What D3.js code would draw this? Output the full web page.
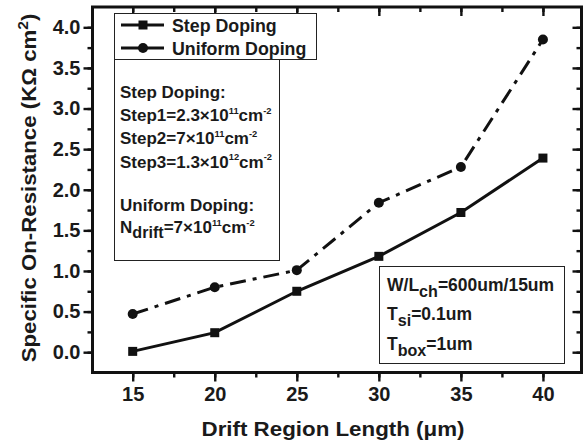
<!DOCTYPE html>
<html><head><meta charset="utf-8">
<script src="https://cdn.jsdelivr.net/npm/d3@7"></script>
<style>
body{margin:0;background:#fff;}
text{font-family:"Liberation Sans",Arial,sans-serif;font-weight:bold;fill:#1a1a1a;}
</style></head>
<body><svg id="c" width="584" height="447"></svg>
<script>
const drift = [15, 20, 25, 30, 35, 40];
const stepDoping = [0.01, 0.24, 0.75, 1.18, 1.72, 2.39];
const uniformDoping = [0.47, 0.80, 1.01, 1.84, 2.28, 3.85];
const xTicks = [15, 20, 25, 30, 35, 40];
const yTicks = [0.0, 0.5, 1.0, 1.5, 2.0, 2.5, 3.0, 3.5, 4.0];

const svg = d3.select("#c");
const L = 92.5, R = 581.5, T = 7, B = 372.5;
const x = d3.scaleLinear().domain([12.55, 42.35]).range([L, R]);
const y = d3.scaleLinear().domain([-0.25, 4.25]).range([B, T]);

const xMinor = d3.range(12.5, 42.5, 2.5).filter(v => v > 12.55 && v < 42.35);
const yMinor = d3.range(-0.25, 4.26, 0.25).filter(v => v > -0.25 && v < 4.25);

function axisLines(g, axis){ g.call(axis); g.select(".domain").remove(); g.selectAll("line").attr("stroke","#111").attr("stroke-width",2.4); }
const TF = 20;
// bottom (outward)
svg.append("g").attr("transform",`translate(0,${B})`).call(g=>axisLines(g,d3.axisBottom(x).tickValues(xMinor).tickSize(5).tickFormat("")));
svg.append("g").attr("transform",`translate(0,${B})`).call(g=>axisLines(g,d3.axisBottom(x).tickValues(xTicks).tickSize(9).tickPadding(5).tickFormat(d3.format("d"))))
  .selectAll("text").attr("font-size",TF).attr("font-family","Liberation Sans, Arial").attr("font-weight","bold");
// top (inward)
svg.append("g").attr("transform",`translate(0,${T})`).call(g=>axisLines(g,d3.axisBottom(x).tickValues(xMinor).tickSize(5).tickFormat("")));
svg.append("g").attr("transform",`translate(0,${T})`).call(g=>axisLines(g,d3.axisBottom(x).tickValues(xTicks).tickSize(9).tickFormat("")));
// left (outward)
svg.append("g").attr("transform",`translate(${L},0)`).call(g=>axisLines(g,d3.axisLeft(y).tickValues(yMinor).tickSize(5).tickFormat("")));
svg.append("g").attr("transform",`translate(${L},0)`).call(g=>axisLines(g,d3.axisLeft(y).tickValues(yTicks).tickSize(9).tickPadding(3).tickFormat(d3.format(".1f"))))
  .selectAll("text").attr("font-size",TF).attr("font-family","Liberation Sans, Arial").attr("font-weight","bold");
// right (inward)
svg.append("g").attr("transform",`translate(${R},0)`).call(g=>axisLines(g,d3.axisLeft(y).tickValues(yMinor).tickSize(5).tickFormat("")));
svg.append("g").attr("transform",`translate(${R},0)`).call(g=>axisLines(g,d3.axisLeft(y).tickValues(yTicks).tickSize(9).tickFormat("")));
svg.selectAll(".tick text").attr("fill","#1a1a1a");

// frame
svg.append("rect").attr("x",L).attr("y",T).attr("width",R-L).attr("height",B-T)
  .attr("fill","none").attr("stroke","#111").attr("stroke-width",3);

// series
const ptsS = drift.map((d,i)=>[d, stepDoping[i]]);
const ptsU = drift.map((d,i)=>[d, uniformDoping[i]]);
const line = d3.line().x(d=>x(d[0])).y(d=>y(d[1]));
svg.append("path").attr("d",line(ptsU)).attr("fill","none").attr("stroke","#111").attr("stroke-width",3)
  .attr("stroke-dasharray","16,7,4,7");
svg.append("path").attr("d",line(ptsS)).attr("fill","none").attr("stroke","#111").attr("stroke-width",3);
svg.selectAll(".sq").data(ptsS).enter().append("rect")
  .attr("x",d=>x(d[0])-4.5).attr("y",d=>y(d[1])-4.5).attr("width",9).attr("height",9).attr("fill","#111");
svg.selectAll(".ci").data(ptsU).enter().append("circle")
  .attr("cx",d=>x(d[0])).attr("cy",d=>y(d[1])).attr("r",5).attr("fill","#111");

// legend box
svg.append("rect").attr("x",114.5).attr("y",13.5).attr("width",202).attr("height",46)
  .attr("fill","#fff").attr("stroke","#222").attr("stroke-width",1);
svg.append("rect").attr("x",114.5).attr("y",59.5).attr("width",165).attr("height",201)
  .attr("fill","#fff").attr("stroke","#222").attr("stroke-width",1);
const leg = [{n:"Step Doping", t:"sq", y:25},{n:"Uniform Doping", t:"ci", y:48}];
leg.forEach(l=>{
  svg.append("line").attr("x1",121).attr("x2",164).attr("y1",l.y).attr("y2",l.y).attr("stroke","#111").attr("stroke-width",3);
  if(l.t==="sq") svg.append("rect").attr("x",138.5).attr("y",l.y-4.5).attr("width",9).attr("height",9).attr("fill","#111");
  else svg.append("circle").attr("cx",143).attr("cy",l.y).attr("r",5).attr("fill","#111");
  svg.append("text").attr("x",172).attr("y",l.y+6.5).attr("font-size",17.8).text(l.n);
});

// annotation text helper
function rich(xp, yp, parts, fs, supScale, subScale, subShift){
  const t = svg.append("text").attr("x",xp).attr("y",yp).attr("font-size",fs);
  let cur = 0;
  parts.forEach(([s,k])=>{
    const target = k==="sup" ? -fs*0.42 : k==="sub" ? subShift : 0;
    const sp = t.append("tspan").attr("dy", target-cur).text(s);
    if(k==="sup") sp.attr("font-size", fs*supScale);
    if(k==="sub") sp.attr("font-size", fs*subScale);
    cur = target;
  });
  return t;
}
const fa = 17;
rich(120, 98, [["Step Doping:","n"]], fa, 0.55, 0.8, 5);
rich(120, 121, [["Step1=2.3×10","n"],["11","sup"],["cm","n"],["-2","sup"]], fa, 0.55, 0.8, 5);
rich(120, 144, [["Step2=7×10","n"],["11","sup"],["cm","n"],["-2","sup"]], fa, 0.55, 0.8, 5);
rich(120, 167.5, [["Step3=1.3×10","n"],["12","sup"],["cm","n"],["-2","sup"]], fa, 0.55, 0.8, 5);
rich(120, 211, [["Uniform Doping:","n"]], fa, 0.55, 0.8, 5);
rich(120, 233, [["N","n"],["drift","sub"],["=7×10","n"],["11","sup"],["cm","n"],["-2","sup"]], fa, 0.55, 0.95, 5);

svg.append("rect").attr("x",379.5).attr("y",266.5).attr("width",185).attr("height",97)
  .attr("fill","#fff").attr("stroke","#222").attr("stroke-width",1);
rich(387, 291, [["W/L","n"],["ch","sub"],["=600um/15um","n"]], 17.5, 0.55, 0.92, 5.5);
rich(387, 320, [["T","n"],["si","sub"],["=0.1um","n"]], 17.5, 0.55, 0.92, 5.5);
rich(387, 350, [["T","n"],["box","sub"],["=1um","n"]], 17.5, 0.55, 0.92, 5.5);

// axis titles
svg.append("text").attr("x",333).attr("y",436).attr("text-anchor","middle").attr("font-size",20)
  .attr("textLength",263).attr("lengthAdjust","spacingAndGlyphs")
  .text("Drift Region Length (μm)");
const yl = svg.append("text").attr("transform","translate(36,188) rotate(-90)").attr("text-anchor","middle").attr("font-size",20);
yl.append("tspan").text("Specific On-Resistance (KΩ cm");
yl.append("tspan").attr("dy",-8).attr("font-size",14).text("2");
yl.append("tspan").attr("dy",8).text(")");
const bb = yl.node().getBBox();
const k = 349 / bb.width;
yl.attr("transform",`translate(36,188) rotate(-90) scale(${k},1)`);
</script></body></html>
